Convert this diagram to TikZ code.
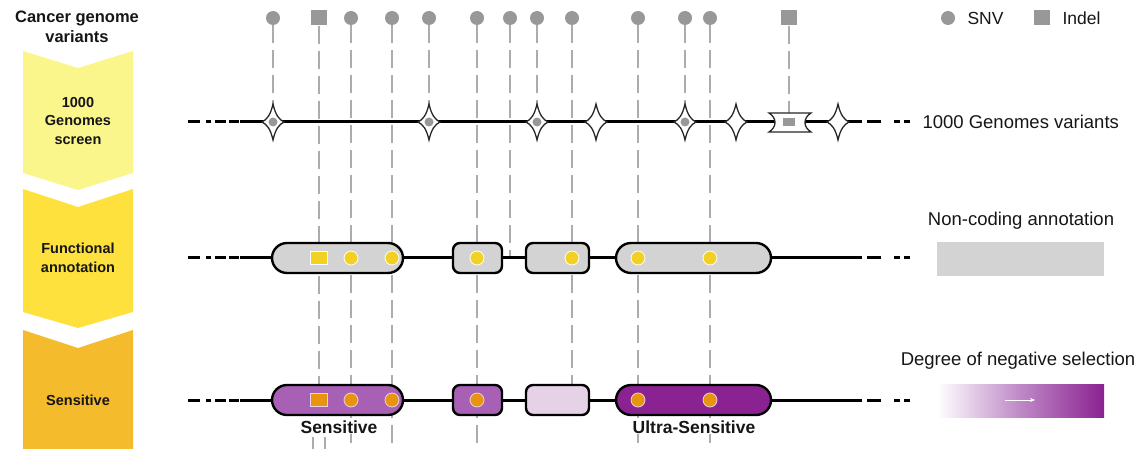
\documentclass[tikz,border=0pt]{standalone}
\usepackage{fontspec}
\setmainfont{Liberation Sans}
\usetikzlibrary{shapes.misc,arrows.meta}

\definecolor{varGray}{RGB}{152,152,152}
\definecolor{guideGray}{RGB}{172,172,172}
\definecolor{boxGray}{RGB}{211,211,211}
\definecolor{chevA}{RGB}{250,246,140}
\definecolor{chevB}{RGB}{254,225,60}
\definecolor{chevC}{RGB}{244,187,45}
\definecolor{dotYellow}{RGB}{242,208,36}
\definecolor{dotOrange}{RGB}{232,148,14}
\definecolor{purpMid}{RGB}{168,96,180}
\definecolor{purpDark}{RGB}{139,34,145}
\definecolor{purpLight}{RGB}{230,210,231}
\definecolor{txt}{RGB}{22,22,22}

\tikzset{
  snv/.style={circle, fill=varGray, minimum size=14pt, inner sep=0pt},
  indel/.style={rectangle, fill=varGray, minimum width=16pt, minimum height=15pt, inner sep=0pt},
  guide/.style={guideGray, line width=1.2pt, dash pattern=on 18pt off 7pt},
  backbone/.style={line width=3pt, black},
  capsule/.style={rounded rectangle, draw=black, line width=2.4pt, minimum height=30pt, inner sep=0pt},
  block/.style={rectangle, rounded corners=7pt, draw=black, line width=2.4pt, minimum height=30pt, inner sep=0pt},
  dotY/.style={circle, fill=dotYellow, draw=white, line width=0.8pt, minimum size=14pt, inner sep=0pt},
  sqY/.style={rectangle, fill=dotYellow, draw=white, line width=0.8pt, minimum width=17pt, minimum height=13pt, inner sep=0pt},
  dotO/.style={circle, fill=dotOrange, draw=purpLight, line width=0.8pt, minimum size=14pt, inner sep=0pt},
  sqO/.style={rectangle, fill=dotOrange, draw=purpLight, line width=0.8pt, minimum width=17pt, minimum height=13pt, inner sep=0pt},
  filtdot/.style={circle, fill=varGray, minimum size=9pt, inner sep=0pt},
  chevtext/.style={text=txt, align=center, font=\fontsize{14.5}{18.5}\selectfont\bfseries},
  lbl/.style={text=txt, font=\fontsize{18.5}{22}\selectfont},
  tag/.style={text=txt, fill=white, inner sep=1pt, font=\fontsize{17.5}{21}\selectfont\bfseries},
  fourstar/.pic={
    \draw[fill=white, draw=black!85, line width=1.3pt]
      (0,-18) .. controls (2.5,-7) and (6,-2.5) .. (11,0)
      .. controls (6,2.5) and (2.5,7) .. (0,18)
      .. controls (-2.5,7) and (-6,2.5) .. (-11,0)
      .. controls (-6,-2.5) and (-2.5,-7) .. cycle;
  }
}

\begin{document}
\begin{tikzpicture}[x=1pt, y=-1pt]
\useasboundingbox (0,0) rectangle (1138,449);

% ---------- process chevrons ----------
\fill[chevA] (23,51) -- (78,68) -- (133,51) -- (133,173) -- (78,190) -- (23,173) -- cycle;
\fill[chevB] (23,189) -- (78,207) -- (133,189) -- (133,312) -- (78,328) -- (23,312) -- cycle;
\fill[chevC] (23,330) -- (78,348) -- (133,330) -- (133,449) -- (23,449) -- cycle;

\node[text=txt, align=center, font=\fontsize{16.5}{20}\selectfont\bfseries] (title) at (77,27) {Cancer genome\\variants};
\node[chevtext] (stepA) at (78,121) {1000\\Genomes\\screen};
\node[chevtext] (stepB) at (78,258) {Functional\\annotation};
\node[chevtext] (stepC) at (78,400) {Sensitive};

% ---------- variants along the genome ----------
\node[snv]   (v1)  at (273,18) {};
\node[indel] (v2)  at (319,18) {};
\node[snv]   (v3)  at (351,18) {};
\node[snv]   (v4)  at (392,18) {};
\node[snv]   (v5)  at (429,18) {};
\node[snv]   (v6)  at (477,18) {};
\node[snv]   (v7)  at (510,18) {};
\node[snv]   (v8)  at (537,18) {};
\node[snv]   (v9)  at (572,18) {};
\node[snv]   (v10) at (638,18) {};
\node[snv]   (v11) at (685,18) {};
\node[snv]   (v12) at (710,18) {};
\node[indel] (v13) at (789,18) {};

% where each variant track ends
\coordinate (e1)  at (273,122);
\coordinate (e2)  at (319,400);
\coordinate (e3)  at (351,449);
\coordinate (e4)  at (392,449);
\coordinate (e5)  at (429,122);
\coordinate (e6)  at (477,449);
\coordinate (e7)  at (510,258);
\coordinate (e8)  at (537,122);
\coordinate (e9)  at (572,400);
\coordinate (e10) at (638,449);
\coordinate (e11) at (685,122);
\coordinate (e12) at (710,449);
\coordinate (e13) at (789,122);

\foreach \i in {1,...,13} { \draw[guide] (v\i) -- (e\i); }

% indel track below the sensitive label
\coordinate (ia1) at (313,437); \coordinate (ib1) at (313,449);
\coordinate (ia2) at (325,437); \coordinate (ib2) at (325,449);
\draw[guide] (ia1) -- (ib1);
\draw[guide] (ia2) -- (ib2);

% ---------- genome backbones ----------
\foreach \y in {122,258,400} {
  \draw[backbone] (240,\y) -- (862,\y);
  \draw[backbone] (188,\y) -- (200,\y);
  \draw[backbone] (206,\y) -- (211,\y);
  \draw[backbone] (215,\y) -- (226,\y);
  \draw[backbone] (229,\y) -- (239,\y);
  \draw[backbone] (867,\y) -- (881,\y);
  \draw[backbone] (894,\y) -- (900,\y);
  \draw[backbone] (904,\y) -- (910,\y);
}

% ---------- row 1: 1000 Genomes screen ----------
\foreach \x in {273,429,537,596,685,736,838} { \pic at (\x,122) {fourstar}; }
\foreach \x/\n in {273/f1,429/f2,537/f3,685/f4} { \node[filtdot] (\n) at (\x,122) {}; }
\draw[fill=white, draw=black!85, line width=1.3pt]
  (769,113) -- (811,113) .. controls (803,118) and (803,127) .. (811,132)
  -- (769,132) .. controls (777,127) and (777,118) .. (769,113) -- cycle;
\node[rectangle, fill=varGray, minimum width=12pt, minimum height=8pt, inner sep=0pt] (f5) at (789,122.5) {};
\node[lbl, anchor=west] (kgLabel) at (919,122) {1000 Genomes variants};

% ---------- row 2: functional annotation ----------
\node[capsule, fill=boxGray, minimum width=131pt] (a1) at (337.5,258) {};
\node[block,   fill=boxGray, minimum width=49pt]  (a2) at (477.5,258) {};
\node[block,   fill=boxGray, minimum width=63pt]  (a3) at (557.5,258) {};
\node[capsule, fill=boxGray, minimum width=155pt] (a4) at (693.5,258) {};
\node[sqY]  (ay2)  at (319,258) {};
\node[dotY] (ay3)  at (351,258) {};
\node[dotY] (ay4)  at (392,258) {};
\node[dotY] (ay6)  at (477,258) {};
\node[dotY] (ay9)  at (572,258) {};
\node[dotY] (ay10) at (638,258) {};
\node[dotY] (ay12) at (710,258) {};

\node[lbl] (ncLabel) at (1021,221) {Non-coding annotation};
\node[fill=boxGray, minimum width=167pt, minimum height=34pt, inner sep=0pt] (swatch) at (1020.5,259) {};

% ---------- row 3: sensitive regions ----------
\node[capsule, fill=purpMid,   minimum width=131pt] (s1) at (337.5,400) {};
\node[block,   fill=purpMid,   minimum width=49pt]  (s2) at (477.5,400) {};
\node[block,   fill=purpLight, minimum width=63pt]  (s3) at (557.5,400) {};
\node[capsule, fill=purpDark,  minimum width=155pt] (s4) at (693.5,400) {};
\node[sqO]  (so2)  at (319,400) {};
\node[dotO] (so3)  at (351,400) {};
\node[dotO] (so4)  at (392,400) {};
\node[dotO] (so6)  at (477,400) {};
\node[dotO] (so10) at (638,400) {};
\node[dotO] (so12) at (710,400) {};

\node[tag] (sensLabel)  at (339,427) {Sensitive};
\node[tag] (ultraLabel) at (694,427) {Ultra-Sensitive};

\node[lbl] (selLabel) at (1018,361) {Degree of negative selection};
\node[inner sep=0pt, minimum width=167pt, minimum height=33pt,
      left color=white, right color=purpDark, middle color=purpMid!75!white] (grad) at (1020.5,400.5) {};
\coordinate (ga) at (1005,400);
\coordinate (gb) at (1035,400);
\draw[white, line width=1pt, -{Stealth[length=5pt, width=4pt]}] (ga) -- (gb);

% ---------- legend ----------
\node[snv] (legSnv) at (948,18) {};
\node[lbl, anchor=west, font=\fontsize{17.5}{21}\selectfont] (legSnvText) at (964,18) {SNV};
\node[indel] (legIndel) at (1042,18) {};
\node[lbl, anchor=west, font=\fontsize{17.5}{21}\selectfont] (legIndelText) at (1059,18) {Indel};
\end{tikzpicture}
\end{document}
